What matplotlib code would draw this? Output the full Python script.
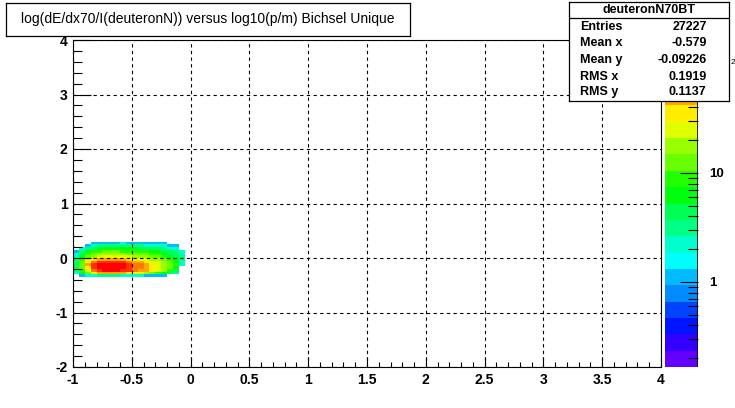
# -*- coding: utf-8 -*-
"""
ROOT style COLZ histogram: log(dE/dx70/I(deuteronN)) vs log10(p/m)
"""
import colorsys
import numpy as np
import matplotlib
matplotlib.use('Agg')
import matplotlib.pyplot as plt
from matplotlib.colors import ListedColormap, BoundaryNorm
from matplotlib.ticker import MultipleLocator, FixedLocator

plt.rcParams['font.family'] = ['Liberation Sans', 'DejaVu Sans']

# ===========================
# data (bin contents)
# ===========================
X_EDGES = np.linspace(-1.0, 0.0, 21)
Y_EDGES = np.linspace(-0.35, 0.30, 14)

# rows from bottom (y=-0.35) to top (y=0.30), 20 columns each
COUNTS = [
    [0, 1, 2, 2, 3, 3, 3, 3, 2, 2, 2, 2, 1, 1, 1, 1, 0, 0, 0, 0],
    [2, 6, 14, 28, 42, 50, 52, 50, 45, 38, 30, 24, 18, 14, 10, 7, 5, 3, 0, 0],
    [3, 9, 28, 60, 95, 120, 125, 120, 105, 88, 70, 55, 42, 32, 22, 15, 10, 5, 0, 0],
    [4, 12, 40, 85, 125, 150, 155, 145, 125, 100, 80, 62, 48, 36, 26, 18, 12, 7, 0, 0],
    [4, 12, 42, 85, 125, 150, 150, 140, 120, 98, 78, 60, 46, 35, 26, 19, 13, 8, 2, 0],
    [4, 12, 35, 62, 90, 110, 112, 100, 85, 70, 56, 45, 36, 28, 21, 16, 11, 7, 2, 0],
    [3, 9, 22, 36, 48, 55, 56, 52, 46, 40, 34, 29, 24, 19, 15, 12, 9, 6, 3, 0],
    [2, 7, 14, 20, 25, 27, 28, 26, 24, 22, 20, 18, 16, 13, 11, 9, 7, 5, 3, 0],
    [2, 5, 10, 13, 15, 16, 17, 16, 15, 14, 13, 12, 11, 10, 8, 7, 5, 4, 2, 0],
    [1, 3, 6, 9, 10, 11, 11, 11, 10, 10, 9, 8, 8, 7, 6, 5, 4, 3, 2, 0],
    [0, 2, 3, 5, 6, 6, 7, 7, 6, 6, 6, 5, 5, 4, 4, 3, 2, 2, 0, 0],
    [0, 0, 1, 2, 3, 3, 3, 3, 3, 3, 3, 3, 2, 2, 2, 2, 1, 1, 0, 0],
    [0, 0, 0, 1, 1, 1, 1, 1, 2, 1, 1, 1, 1, 1, 1, 1, 0, 0, 0, 0],
]

Z_MIN, Z_MAX = 0.166, 166.0
N_CONTOURS = 20
Z_TICKS = [1, 10, 100]
Z_TICK_LABELS = ["1", "10", "10"]

TITLE = "log(dE/dx70/I(deuteronN)) versus log10(p/m) Bichsel Unique"
STATS_NAME = "deuteronN70BT"
STATS = [("Entries", "27227"), ("Mean x", "-0.579"), ("Mean y", "-0.09226"),
         ("RMS x", "0.1919"), ("RMS y", "0.1137")]

# ===========================
# ROOT "pretty" palette (50 colours, 20 contour levels)
# ===========================
pal = []
for i in range(50):
    hue = 280 - (i + 1) * (280 / 50)
    pal.append(colorsys.hls_to_rgb(hue / 360, 0.5, 1.0))
level_cols = [pal[min(int((i + 0.99) * 50 / N_CONTOURS), 49)] for i in range(N_CONTOURS)]
cmap = ListedColormap(level_cols)
levels = np.logspace(np.log10(Z_MIN), np.log10(Z_MAX), N_CONTOURS + 1)
norm = BoundaryNorm(levels, cmap.N)

counts = np.ma.masked_equal(np.array(COUNTS, dtype=float), 0)

# ===========================
# figure
# ===========================
W, H = 735, 408
fig = plt.figure(figsize=(W / 100, H / 100), dpi=100)
fig.patch.set_facecolor('white')

def fx(px):
    return px / W

def fy(py):
    return 1 - py / H

ax = fig.add_axes([fx(73), fy(367), fx(661) - fx(73), fy(40) - fy(367)])
mesh = ax.pcolormesh(X_EDGES, Y_EDGES, counts, cmap=cmap, norm=norm)
ax.set_xlim(-1, 4)
ax.set_ylim(-2, 4)

ax.xaxis.set_major_locator(MultipleLocator(0.5))
ax.xaxis.set_minor_locator(MultipleLocator(0.1))
ax.yaxis.set_major_locator(MultipleLocator(1))
ax.yaxis.set_minor_locator(MultipleLocator(0.2))
ax.tick_params(axis='x', which='major', direction='in', length=7.2, width=0.8, pad=4,
               top=False, labelsize=10)
ax.tick_params(axis='x', which='minor', direction='in', length=3.6, width=0.8, top=False)
ax.tick_params(axis='y', which='major', direction='in', length=12.7, width=0.8, pad=4,
               right=False, labelsize=10)
ax.tick_params(axis='y', which='minor', direction='in', length=6.3, width=0.8, right=False)

ax.xaxis.set_major_formatter(matplotlib.ticker.FuncFormatter(lambda v, p: f"{v:g}"))
ax.yaxis.set_major_formatter(matplotlib.ticker.FuncFormatter(lambda v, p: f"{v:g}"))
for lab in ax.get_xticklabels() + ax.get_yticklabels():
    lab.set_fontweight('bold')

ax.set_axisbelow(False)
ax.grid(True, which='major', color='black', linestyle=(0, (3, 3)), linewidth=0.8)
for sp in ax.spines.values():
    sp.set_linewidth(0.8)

# colour bar
cax = fig.add_axes([fx(665), fy(367), fx(698) - fx(665), fy(40) - fy(367)])
cbar = fig.colorbar(mesh, cax=cax)
cbar.outline.set_visible(False)
cax.set_yscale('log')
cax.set_ylim(Z_MIN, Z_MAX)
cax.yaxis.set_major_locator(FixedLocator(Z_TICKS))
cax.yaxis.set_major_formatter(matplotlib.ticker.FixedFormatter(Z_TICK_LABELS))
cax.yaxis.set_minor_locator(FixedLocator([0.2, 0.3, 0.4, 0.5, 0.6, 0.7, 0.8, 0.9,
                                          2, 3, 4, 5, 6, 7, 8, 9,
                                          20, 30, 40, 50, 60, 70, 80, 90]))
cax.yaxis.set_minor_formatter(matplotlib.ticker.NullFormatter())
cax.tick_params(which='major', direction='in', length=13, width=0.8, labelsize=9.5, pad=8)
cax.tick_params(which='minor', direction='in', length=7, width=0.8)
for lab in cax.get_yticklabels():
    lab.set_fontweight('bold')
cax.axvline(1, color='black', lw=1.2)
# exponent of the 10^2 label, peeking out beside the stats box
fig.text(fx(730.5), fy(62), "2", fontsize=6, ha='left', va='center', zorder=20)

# title box
tax = fig.add_axes([fx(6), fy(36), fx(410) - fx(6), fy(3) - fy(36)])
tax.set_xticks([])
tax.set_yticks([])
tax.set_facecolor('white')
for sp in tax.spines.values():
    sp.set_linewidth(0.9)
tax.text(0.5, 0.5, TITLE, ha='center', va='center', fontsize=10, transform=tax.transAxes)

# stats box
sax = fig.add_axes([fx(569), fy(101), fx(729) - fx(569), fy(2) - fy(101)])
sax.set_zorder(10)
sax.set_xticks([])
sax.set_yticks([])
sax.set_facecolor('white')
for sp in sax.spines.values():
    sp.set_linewidth(0.9)
sax.axhline(0.838, color='black', lw=0.9)
sax.text(0.5, 0.919, STATS_NAME, ha='center', va='center', fontsize=9,
         fontweight='bold', transform=sax.transAxes)
row_y = [0.747, 0.586, 0.414, 0.242, 0.091]
for (name, val), yy in zip(STATS, row_y):
    sax.text(0.07, yy, name, ha='left', va='center', fontsize=9,
             fontweight='bold', transform=sax.transAxes)
    sax.text(0.86, yy, val, ha='right', va='center', fontsize=9,
             fontweight='bold', transform=sax.transAxes)

fig.savefig("out.png", dpi=100)
